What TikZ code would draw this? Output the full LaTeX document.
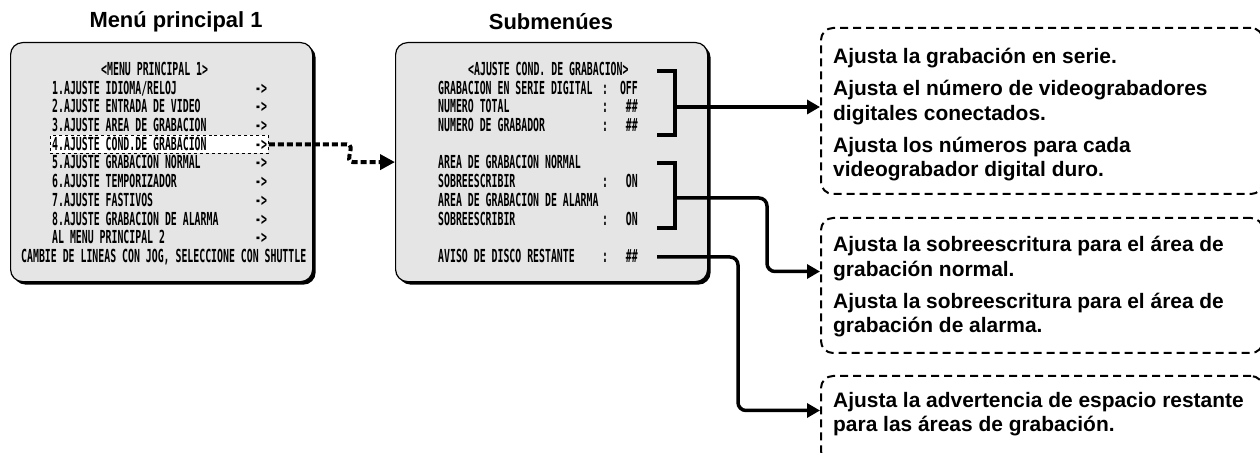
\documentclass[tikz,border=0pt]{standalone}
\usepackage{fontspec}
\setmainfont{Liberation Sans}
\newfontfamily\osdfont[FakeStretch=0.55]{DejaVu Sans Mono}
\usetikzlibrary{arrows.meta, shadows, calc}
\definecolor{screenfill}{gray}{0.9}

\begin{document}
\begin{tikzpicture}[x=1bp, y=-1bp,
  title/.style={font=\bfseries\fontsize{22}{26}\selectfont},
  screen/.style={draw, line width=1.2bp, fill=screenfill, rounded corners=12bp, anchor=north west,
    drop shadow={shadow xshift=3bp, shadow yshift=-3bp, opacity=1, fill=black}},
  osd/.style={font=\osdfont\bfseries\fontsize{18}{18}\selectfont, anchor=base west, inner sep=0pt},
  selbox/.style={draw, dashed, fill=white, line width=0.8bp, anchor=north west, inner sep=0pt},
  notebox/.style={draw, line width=2bp, dash pattern=on 8bp off 5bp, rounded corners=12bp, anchor=north west},
  note/.style={font=\bfseries\fontsize{21}{25}\selectfont, align=left, anchor=base west, inner sep=0pt},
  bracket/.style={line width=4.5bp},
  link/.style={line width=3.5bp, rounded corners=8bp, -{Triangle[length=13bp, width=14bp]}},
  dotlink/.style={line width=4bp, dash pattern=on 6bp off 3bp, -{Triangle[length=15bp, width=15bp]}}]
\useasboundingbox (0,0) rectangle (1260,453);

% titles
\node[title] (t1) at (176,22) {Menú principal 1};
\node[title] (t2) at (551,22) {Submenúes};

% main menu screen
\node[screen, minimum width=302bp, minimum height=239bp] (main) at (10,42) {};
\node[selbox, minimum width=218bp, minimum height=18bp] (sel) at (50,135) {};
\node[osd] (mh) at (101,76) {<MENU PRINCIPAL 1>};
\node[osd] (m1) at (52,95) {1.AJUSTE IDIOMA/RELOJ};
\node[osd] (m2) at (52,113) {2.AJUSTE ENTRADA DE VIDEO};
\node[osd] (m3) at (52,132) {3.AJUSTE AREA DE GRABACION};
\node[osd] (m4) at (52,151) {4.AJUSTE COND.DE GRABACION};
\node[osd] (m5) at (52,169) {5.AJUSTE GRABACION NORMAL};
\node[osd] (m6) at (52,188) {6.AJUSTE TEMPORIZADOR};
\node[osd] (m7) at (52,207) {7.AJUSTE FASTIVOS};
\node[osd] (m8) at (52,226) {8.AJUSTE GRABACION DE ALARMA};
\node[osd] (m9) at (52,244) {AL MENU PRINCIPAL 2};
\node[osd] (mf) at (21,263) {CAMBIE DE LINEAS CON JOG, SELECCIONE CON SHUTTLE};
\node[osd] (r1) at (255,95) {->};
\node[osd] (r2) at (255,113) {->};
\node[osd] (r3) at (255,132) {->};
\node[osd] (r4) at (255,151) {->};
\node[osd] (r5) at (255,169) {->};
\node[osd] (r6) at (255,188) {->};
\node[osd] (r7) at (255,207) {->};
\node[osd] (r8) at (255,226) {->};
\node[osd] (r9) at (255,244) {->};

% submenu screen
\node[screen, minimum width=312bp, minimum height=239bp] (sub) at (395,42) {};
\node[osd] (sh) at (468,76) {<AJUSTE COND. DE GRABACION>};
\node[osd] (s1) at (438,95) {GRABACION EN SERIE DIGITAL};
\node[osd] (s2) at (438,113) {NUMERO TOTAL};
\node[osd] (s3) at (438,132) {NUMERO DE GRABADOR};
\node[osd] (s4) at (438,169) {AREA DE GRABACION NORMAL};
\node[osd] (s5) at (438,188) {SOBREESCRIBIR};
\node[osd] (s6) at (438,207) {AREA DE GRABACION DE ALARMA};
\node[osd] (s7) at (438,226) {SOBREESCRIBIR};
\node[osd] (s8) at (438,263) {AVISO DE DISCO RESTANTE};
\node[osd] (v1) at (602,95) {:~~OFF};
\node[osd] (v2) at (602,113) {:~~~\#\#};
\node[osd] (v3) at (602,132) {:~~~\#\#};
\node[osd] (v5) at (602,188) {:~~~ON};
\node[osd] (v7) at (602,226) {:~~~ON};
\node[osd] (v8) at (602,263) {:~~~\#\#};

% notes
\node[notebox, minimum width=442bp, minimum height=166bp] (n1) at (820,27) {};
\node[notebox, minimum width=442bp, minimum height=135bp] (n2) at (820,217) {};
\node[notebox, minimum width=442bp, minimum height=87bp] (n3) at (820,375) {};
\node[note] (n1t) at (833,177) {Ajusta la grabación en serie.\\[7bp]
  Ajusta el número de videograbadores\\ digitales conectados.\\[7bp]
  Ajusta los números para cada\\ videograbador digital duro.};
\node[note] (n2t) at (833,333) {Ajusta la sobreescritura para el área de\\ grabación normal.\\[7bp]
  Ajusta la sobreescritura para el área de\\ grabación de alarma.};
\node[note] (n3t) at (833,432) {Ajusta la advertencia de espacio restante\\ para las áreas de grabación.};

% brackets and arrows
\draw[bracket] (657,71) -| (675,135) -- (657,135);
\draw[bracket] (657,163) -| (675,228) -- (657,228);
\coordinate (b1) at (673,107);
\coordinate (b2) at (673,198);
\coordinate (b3) at (657,257);
\draw[link] (b1) -- (n1.west |- b1);
\draw[link] (b2) -- ++(94,0) |- ([yshift=14bp]n2.west);
\draw[link] (b3) -- ++(81,0) |- ([yshift=9bp]n3.west);
\draw[dotlink] (sel.east) -- ++(78,0) .. controls +(10,0) and +(-10,0) .. ([xshift=-42bp]sub.west) -- (sub.west);
\end{tikzpicture}
\end{document}
